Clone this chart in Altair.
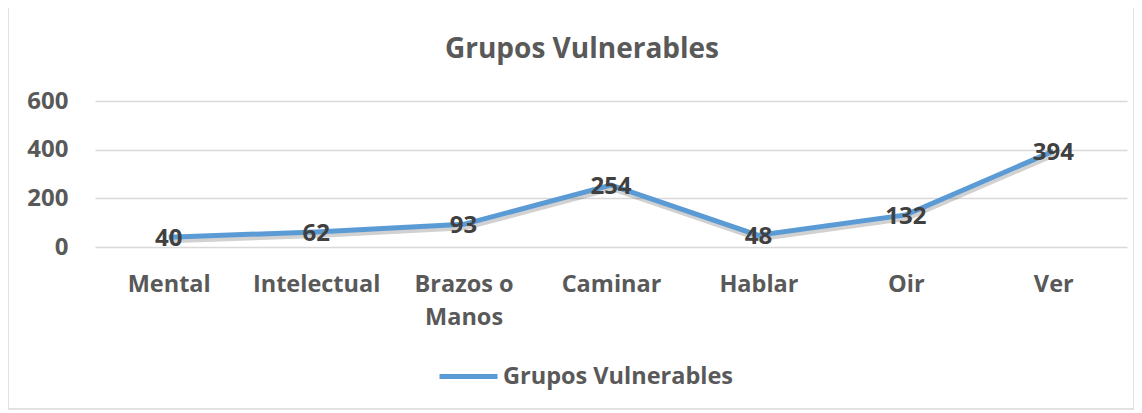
import altair as alt
import pandas as pd

categories = ["Mental", "Intelectual", "Brazos o Manos", "Caminar", "Hablar", "Oir", "Ver"]
values = [40, 62, 93, 254, 48, 132, 394]
series_name = "Grupos Vulnerables"
y_ticks = [0, 200, 400, 600]

df = pd.DataFrame({"cat": categories, "val": values, "series": [series_name] * len(categories)})

FONT = "Open Sans"
GRAY = "#595959"
DARK = "#404040"
BLUE = "#5B9BD5"
LBL = 23.5

x = alt.X("cat:N", sort=categories, title=None,
          scale=alt.Scale(type="point", padding=0.5),
          axis=alt.Axis(labelAngle=0, labelFontSize=LBL, labelFont=FONT, labelFontWeight="bold",
                        labelColor=GRAY, ticks=False, domain=False, labelPadding=25,
                        labelLineHeight=33, labelBaseline="top", labelLimit=300,
                        labelExpr="datum.label == 'Brazos o Manos' ? ['Brazos o', 'Manos'] : datum.label"))
y = alt.Y("val:Q", title=None,
          scale=alt.Scale(domain=[0, 600], nice=False),
          axis=alt.Axis(values=y_ticks, labelFontSize=24, labelFont=FONT, labelFontWeight="bold",
                        labelColor=GRAY, ticks=False, domain=False, labelPadding=27,
                        gridColor="#D9D9D9", gridWidth=1.5))

base = alt.Chart(df)

shadow = base.mark_line(color="#000000", opacity=0.18, strokeWidth=6, xOffset=1, yOffset=3).encode(
    x=x, y=y)

line = base.mark_line(strokeWidth=5).encode(
    x=x, y=y,
    color=alt.Color("series:N", title=None,
                    scale=alt.Scale(domain=[series_name], range=[BLUE]),
                    legend=alt.Legend(orient="none", legendX=342, legendY=244,
                                      symbolType="stroke", symbolSize=3364, symbolStrokeWidth=5,
                                      labelFont=FONT, labelFontSize=LBL, labelFontWeight="bold",
                                      labelColor=GRAY, labelOffset=3, labelLimit=400)))

labels = base.mark_text(font=FONT, fontSize=24, fontWeight="bold", color=DARK,
                        baseline="middle", align="center", dy=2).encode(
    x=x, y=y, text=alt.Text("val:Q"))

border = alt.Chart(pd.DataFrame({"a": [0]})).mark_rect(
    fill=None, stroke="#D9D9D9", strokeWidth=1.5).encode(
    x=alt.value(-87), x2=alt.value(1039), y=alt.value(-95), y2=alt.value(308))

chart = alt.layer(border, shadow, line, labels).properties(
    width=1032, height=146,
    title=alt.TitleParams(series_name, font=FONT, fontSize=28, fontWeight="bold",
                          color=GRAY, anchor="middle", dx=-29, offset=-81, baseline="alphabetic"),
    padding={"left": 87, "top": 93, "right": 7, "bottom": 165},
    autosize=alt.AutoSizeParams(type="none"),
).configure_view(stroke=None)

chart.save("out.html", embed_options={"renderer": "svg", "actions": False})
